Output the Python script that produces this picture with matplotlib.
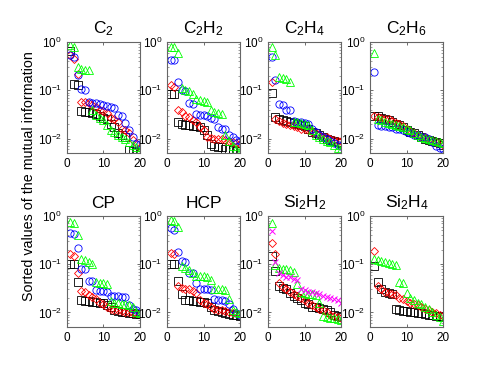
import numpy as np
import matplotlib
matplotlib.use("Agg")
import matplotlib.pyplot as plt

plt.rcParams['font.family'] = ['Liberation Sans', 'DejaVu Sans']
plt.rcParams['mathtext.fontset'] = 'custom'
plt.rcParams['mathtext.rm'] = 'Liberation Sans'
plt.rcParams['mathtext.it'] = 'Liberation Sans:italic'

# --- data: sorted mutual information values, 20 per series ---
ranks = np.arange(1, 21)
titles = ['C$_2$', 'C$_2$H$_2$', 'C$_2$H$_4$', 'C$_2$H$_6$',
          'CP', 'HCP', 'Si$_2$H$_2$', 'Si$_2$H$_4$']

black = [
    [0.65, 0.135, 0.13, 0.037, 0.036, 0.035, 0.034, 0.033, 0.030, 0.027, 0.025, 0.020, 0.017, 0.013, 0.012, 0.011, 0.0057, 0.0055, 0.0052, 0.0050],
    [0.085, 0.083, 0.022, 0.020, 0.019, 0.019, 0.018, 0.018, 0.017, 0.015, 0.012, 0.0078, 0.0070, 0.0068, 0.0066, 0.0062, 0.0060, 0.0058, 0.0056, 0.0055],
    [0.090, 0.028, 0.025, 0.024, 0.023, 0.022, 0.021, 0.020, 0.019, 0.018, 0.016, 0.014, 0.013, 0.012, 0.011, 0.010, 0.0095, 0.0090, 0.0085, 0.0080],
    [0.030, 0.029, 0.027, 0.025, 0.024, 0.022, 0.020, 0.019, 0.017, 0.015, 0.014, 0.013, 0.012, 0.011, 0.010, 0.0095, 0.0090, 0.0085, 0.0080, 0.0075],
    [0.10, 0.10, 0.042, 0.018, 0.0175, 0.017, 0.0168, 0.0165, 0.016, 0.0155, 0.014, 0.013, 0.011, 0.0105, 0.0102, 0.010, 0.0098, 0.0096, 0.0094, 0.0092],
    [0.10, 0.10, 0.045, 0.024, 0.018, 0.018, 0.0175, 0.017, 0.0168, 0.0165, 0.0155, 0.013, 0.011, 0.0105, 0.010, 0.0095, 0.0092, 0.0090, 0.0088, 0.0085],
    [0.15, 0.072, 0.036, 0.032, 0.030, 0.025, 0.022, 0.020, 0.018, 0.016, 0.015, 0.013, 0.013, 0.0125, 0.012, 0.011, 0.010, 0.0090, 0.0085, 0.0080],
    [0.090, 0.042, 0.030, 0.026, 0.025, 0.024, 0.012, 0.011, 0.0108, 0.0105, 0.0102, 0.010, 0.0098, 0.0095, 0.0092, 0.0090, 0.0088, 0.0086, 0.0084, 0.0080],
]
red = [
    [0.55, 0.45, 0.22, 0.058, 0.056, 0.055, 0.050, 0.045, 0.040, 0.037, 0.034, 0.027, 0.025, 0.022, 0.016, 0.015, 0.013, 0.0095, 0.0080, 0.0063],
    [0.13, 0.12, 0.040, 0.035, 0.030, 0.028, 0.024, 0.022, 0.017, 0.015, 0.011, 0.0105, 0.010, 0.010, 0.0098, 0.0095, 0.0090, 0.0085, 0.0080, 0.0078],
    [0.15, 0.026, 0.023, 0.021, 0.020, 0.019, 0.018, 0.017, 0.016, 0.016, 0.015, 0.014, 0.013, 0.012, 0.011, 0.011, 0.010, 0.0095, 0.0090, 0.0090],
    [0.030, 0.028, 0.027, 0.026, 0.025, 0.023, 0.021, 0.020, 0.018, 0.016, 0.014, 0.013, 0.012, 0.011, 0.011, 0.010, 0.0090, 0.0085, 0.0080, 0.0075],
    [0.16, 0.15, 0.065, 0.028, 0.026, 0.023, 0.021, 0.019, 0.016, 0.015, 0.013, 0.012, 0.011, 0.011, 0.0105, 0.0102, 0.010, 0.0098, 0.0096, 0.0094],
    [0.17, 0.16, 0.035, 0.032, 0.030, 0.030, 0.028, 0.025, 0.018, 0.016, 0.015, 0.013, 0.012, 0.011, 0.011, 0.0105, 0.010, 0.0098, 0.0095, 0.0092],
    [0.28, 0.16, 0.040, 0.034, 0.030, 0.027, 0.024, 0.022, 0.020, 0.018, 0.016, 0.014, 0.013, 0.012, 0.011, 0.010, 0.0090, 0.0085, 0.0080, 0.0075],
    [0.19, 0.035, 0.030, 0.026, 0.025, 0.024, 0.023, 0.020, 0.019, 0.017, 0.016, 0.015, 0.014, 0.013, 0.012, 0.011, 0.010, 0.0095, 0.0090, 0.0085],
]
blue = [
    [0.53, 0.49, 0.21, 0.108, 0.10, 0.056, 0.055, 0.054, 0.053, 0.050, 0.048, 0.045, 0.043, 0.031, 0.029, 0.021, 0.015, 0.011, 0.0079, 0.0078],
    [0.43, 0.42, 0.15, 0.10, 0.095, 0.055, 0.052, 0.032, 0.031, 0.031, 0.030, 0.027, 0.026, 0.017, 0.016, 0.0155, 0.012, 0.011, 0.0095, 0.0090],
    [0.50, 0.16, 0.052, 0.050, 0.040, 0.039, 0.023, 0.022, 0.022, 0.021, 0.020, 0.016, 0.014, 0.012, 0.011, 0.010, 0.0090, 0.0080, 0.0075, 0.0070],
    [0.24, 0.019, 0.018, 0.018, 0.017, 0.017, 0.016, 0.016, 0.015, 0.014, 0.013, 0.012, 0.012, 0.011, 0.011, 0.010, 0.0085, 0.0070, 0.0065, 0.0060],
    [0.45, 0.42, 0.22, 0.080, 0.078, 0.045, 0.044, 0.029, 0.028, 0.028, 0.027, 0.022, 0.022, 0.022, 0.021, 0.021, 0.014, 0.012, 0.011, 0.010],
    [0.55, 0.52, 0.18, 0.115, 0.11, 0.066, 0.064, 0.041, 0.031, 0.030, 0.030, 0.029, 0.019, 0.018, 0.018, 0.017, 0.015, 0.012, 0.0095, 0.0090],
    None,
    None,
]
green = [
    [0.88, 0.80, 0.30, 0.28, 0.27, 0.26, 0.040, 0.031, 0.027, 0.024, 0.019, 0.015, 0.014, 0.012, 0.011, 0.010, 0.0085, 0.0073, 0.0067, 0.0058],
    [0.80, 0.78, 0.58, 0.11, 0.10, 0.095, 0.085, 0.065, 0.062, 0.060, 0.058, 0.040, 0.036, 0.034, 0.032, 0.012, 0.0090, 0.0070, 0.0060, 0.0055],
    [0.80, 0.55, 0.19, 0.18, 0.17, 0.15, 0.022, 0.022, 0.021, 0.020, 0.019, 0.015, 0.012, 0.011, 0.010, 0.0090, 0.0085, 0.0075, 0.0065, 0.0060],
    [0.58, 0.025, 0.024, 0.022, 0.021, 0.020, 0.019, 0.018, 0.017, 0.016, 0.015, 0.013, 0.012, 0.011, 0.0105, 0.010, 0.0095, 0.0090, 0.0085, 0.0080],
    [0.75, 0.72, 0.40, 0.13, 0.12, 0.11, 0.10, 0.042, 0.040, 0.040, 0.038, 0.017, 0.016, 0.016, 0.015, 0.015, 0.014, 0.013, 0.010, 0.0095],
    [0.82, 0.80, 0.60, 0.090, 0.085, 0.075, 0.066, 0.058, 0.057, 0.056, 0.055, 0.047, 0.031, 0.030, 0.030, 0.029, 0.019, 0.011, 0.010, 0.0095],
    [0.72, 0.095, 0.085, 0.080, 0.078, 0.075, 0.070, 0.038, 0.026, 0.025, 0.024, 0.024, 0.023, 0.016, 0.0085, 0.0080, 0.0078, 0.0075, 0.0072, 0.0070],
    [0.13, 0.12, 0.115, 0.11, 0.105, 0.10, 0.098, 0.042, 0.041, 0.025, 0.020, 0.018, 0.016, 0.015, 0.013, 0.012, 0.010, 0.0090, 0.0080, 0.0065],
]
magenta = [None, None, None, None, None, None,
           [0.48, 0.11, 0.065, 0.060, 0.055, 0.053, 0.050, 0.046, 0.031, 0.029, 0.027, 0.026, 0.025, 0.024, 0.022, 0.021, 0.020, 0.019, 0.018, 0.016],
           None]

styles = [
    (black, 's', 'k'),
    (red, 'D', 'r'),
    (blue, 'o', 'b'),
    (green, '^', '#00ff00'),
    (magenta, 'x', '#ff00ff'),
]

fig = plt.figure(figsize=(4.91, 3.69), dpi=100)
lefts = [0.136, 0.340, 0.546, 0.754]
bottoms = [0.585, 0.114]
w, h = 0.149, 0.301

for k in range(8):
    ax = fig.add_axes([lefts[k % 4], bottoms[k // 4], w, h])
    for series, mk, col in styles:
        vals = series[k]
        if vals is None:
            continue
        if mk == 'x':
            ax.plot(ranks, vals, linestyle='none', marker=mk, color=col,
                    markersize=4.2, markeredgewidth=0.7)
        else:
            ms = 4.4 if mk == 'D' else 5.2
            ax.plot(ranks, vals, linestyle='none', marker=mk, markerfacecolor='none',
                    markeredgecolor=col, markersize=ms, markeredgewidth=0.6)
    ax.set_yscale('log')
    ax.set_xlim(0, 20)
    ax.set_ylim(5e-3, 1)
    ax.set_xticks([0, 10, 20])
    ax.set_yticks([1e-2, 1e-1, 1])
    ax.tick_params(direction='in', labelsize=8.5, length=2.5, width=0.5, pad=3.5,
                   colors='#333333', labelcolor='black', top=True, right=True)
    ax.tick_params(which='minor', direction='in', length=1.2, width=0.4,
                   top=True, right=True, colors='#555555')
    for sp in ax.spines.values():
        sp.set_color('#666666')
        sp.set_linewidth(0.8)
    ax.set_title(titles[k], fontsize=12.5, pad=6)

fig.text(0.06, 0.524, 'Sorted values of the mutual information', rotation=90,
         ha='center', va='center', fontsize=10.3)

fig.savefig('out.png', dpi=100)
